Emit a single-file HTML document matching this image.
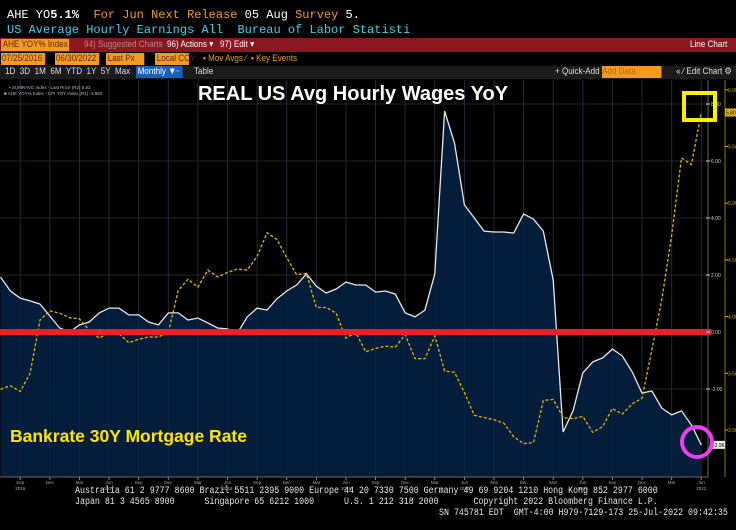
<!DOCTYPE html>
<html><head><meta charset="utf-8">
<style>
*{margin:0;padding:0;box-sizing:border-box}
body{width:736px;height:530px;background:#000;overflow:hidden;font-family:"Liberation Mono",monospace;position:relative}
.t{position:absolute;white-space:pre;font-size:12px;line-height:14px}
.bar{position:absolute;left:0;width:736px}
.sm{position:absolute;font-family:"Liberation Sans",sans-serif;font-size:9.5px;line-height:12px;white-space:pre;transform:scaleX(0.85);transform-origin:left}
.of{background:#f39a1f;color:#5a2a00}
.foot{position:absolute;font-family:"Liberation Mono",monospace;font-size:10px;color:#e8e8e8;white-space:pre;transform:scaleX(0.83);transform-origin:left}
</style></head><body>
<div class="t" style="left:7px;top:8px;color:#fff">AHE YO<b>5.1%</b>  <span style="color:#f39a1f">For Jun</span> <span style="color:#f39a1f">Next Release</span> 05 Aug <span style="color:#f39a1f">Survey</span> 5.</div>
<div class="t" style="left:7px;top:23px;color:#3fd0e8">US Average Hourly Earnings All  Bureau of Labor Statisti</div>

<div class="bar" style="top:38px;height:14px;background:#8a1620">
  <div class="sm of" style="left:1px;top:1px;width:80px;height:12px;padding-left:2px">AHE YOY% Index</div>
  <div class="sm" style="left:84px;top:1px;color:#b98a8a">94) Suggested Charts</div>
  <div class="sm" style="left:167px;top:1px;color:#fff">96) Actions ▾</div>
  <div class="sm" style="left:220px;top:1px;color:#fff">97) Edit ▾</div>
  <div class="sm" style="left:690px;top:1px;color:#fff">Line Chart</div>
</div>
<div class="bar" style="top:52px;height:14px;background:#000">
  <div class="sm of" style="left:1px;top:1px;width:52px;height:12px;padding-left:1px">07/25/2016</div>
  <div class="sm of" style="left:55px;top:1px;width:52px;height:12px;padding-left:1px">06/30/2022</div>
  <div class="sm of" style="left:106px;top:1px;width:45px;height:12px;padding-left:2px">Last Px</div>
  <div class="sm of" style="left:155px;top:1px;width:40px;height:12px;padding-left:2px">Local CCY</div>
  <div class="sm" style="left:203px;top:1px;color:#f39a1f">▪ Mov Avgs ⁄  ▪ Key Events</div>
</div>
<div class="bar" style="top:66px;height:13px;background:#1b1b1b">
  <div class="sm" style="left:5px;top:0;color:#ddd">1D  3D  1M  6M  YTD  1Y  5Y  Max</div>
  <div class="sm" style="left:136px;top:0;background:#1b5fb8;color:#fff;padding:0 2px">Monthly ▼</div>
  <div class="sm" style="left:175px;top:0;background:#1b5fb8;color:#9cf;width:9px;height:12px">~</div>
  <div class="sm" style="left:194px;top:0;color:#ddd">Table</div>
  <div class="sm" style="left:555px;top:0;color:#ddd">+ Quick-Add ·</div>
  <div class="sm of" style="left:602px;top:0;width:70px;height:12px;color:#b86a10">Add Data</div>
  <div class="sm" style="left:676px;top:0;color:#ddd">« ⁄ Edit Chart ⚙</div>
</div>

<svg id="chart" style="position:absolute;left:0;top:79px" width="736" height="411" viewBox="0 79 736 411"></svg>

<div class="foot" style="left:75px;top:486px">Australia 61 2 9777 8600 Brazil 5511 2395 9000 Europe 44 20 7330 7500 Germany 49 69 9204 1210 Hong Kong 852 2977 6000</div>
<div class="foot" style="left:75px;top:497px">Japan 81 3 4565 8900      Singapore 65 6212 1000      U.S. 1 212 318 2000       Copyright 2022 Bloomberg Finance L.P.</div>
<div class="foot" style="left:439px;top:508px">SN 745781 EDT  GMT-4:00 H979-7129-173 25-Jul-2022 09:42:35</div>

<script>
const realWage = [1.93,1.44,1.19,1.09,0.98,0.56,0.14,0.00,0.25,0.35,0.67,0.84,0.84,0.60,0.60,0.35,0.25,0.67,0.67,0.42,0.49,0.32,0.14,0.11,-0.04,0.53,0.84,0.77,1.16,1.44,1.65,2.04,1.61,1.37,1.51,1.75,1.65,1.65,1.40,1.44,1.33,0.67,0.53,0.77,2.04,7.75,6.63,4.46,4.00,3.54,3.51,3.51,3.47,4.14,3.96,3.54,1.82,-3.51,-2.77,-1.44,-1.05,-0.91,-0.60,-0.84,-1.40,-2.14,-2.07,-2.67,-2.91,-2.77,-3.26,-3.96];
const mortgage = [3.36,3.39,3.34,3.50,3.97,4.05,4.03,3.99,3.98,3.88,3.81,3.86,3.85,3.77,3.80,3.82,3.82,3.86,4.23,4.33,4.26,4.41,4.35,4.39,4.42,4.41,4.53,4.74,4.68,4.52,4.37,4.38,4.08,4.08,4.03,3.81,3.86,3.69,3.72,3.74,3.73,3.84,3.63,3.63,3.83,3.52,3.51,3.33,3.13,3.11,3.09,3.06,2.94,2.88,2.89,3.26,3.27,3.11,3.10,3.12,2.98,3.03,3.19,3.14,3.23,3.28,3.71,4.15,4.72,5.40,5.34,5.80];
const wageTicks = [8,6,4,2,0,-2];
const wageTickLabels = ["8.00","6.00","4.00","2.00","0.00","-2.00"];
const mortTicks = [6,5.5,5,4.5,4,3.5,3];
const mortTickLabels = ["6.00","5.50","5.00","4.50","4.00","3.50","3.00"];
const monthNames = ["Jan","Feb","Mar","Apr","May","Jun","Jul","Aug","Sep","Oct","Nov","Dec"];
const startYear = 2016, startMonth = 6; // Jul 2016

const NS="http://www.w3.org/2000/svg";
const svg=document.getElementById('chart');
const xS=i=>0.5+9.87*i;
const yW=v=>332-28.5*v;
const yY=v=>430-113.4*(v-3);
const PT=80, PB=477, PR=707;
function mk(tag,attrs,parent){const e=document.createElementNS(NS,tag);for(const k in attrs)e.setAttribute(k,attrs[k]);(parent||svg).appendChild(e);return e;}

mk('rect',{x:0,y:PT,width:PR,height:PB-PT,fill:'#000'});
wageTicks.forEach(v=>{const g=mk('line',{x1:0,x2:PR,y1:yW(v),y2:yW(v),stroke:'#262626','stroke-width':1});

});
const n=realWage.length;
for(let i=0;i<n;i++){const m=(startMonth+i)%12;if(m%3===2){const g=mk('line',{x1:xS(i),x2:xS(i),y1:PT,y2:PB,stroke:'#262626','stroke-width':1});

}}
let d='M'+xS(0)+','+PB;realWage.forEach((v,i)=>d+=' L'+xS(i).toFixed(1)+','+yW(v).toFixed(1));d+=' L'+xS(n-1).toFixed(1)+','+PB+' Z';
const area=mk('path',{d:d,fill:'#041d3a'});


for(let i=0;i<n;i++){const m=(startMonth+i)%12;if(m%3===2){mk('line',{x1:xS(i),x2:xS(i),y1:PT,y2:PB,stroke:'#1a3450','stroke-width':0.6,opacity:0.5});}}
let lw='';realWage.forEach((v,i)=>lw+=(i?' L':'M')+xS(i).toFixed(1)+','+yW(v).toFixed(1));
const wl=mk('path',{d:lw,fill:'none',stroke:'#e8e8e8','stroke-width':1.3});


let ly='';mortgage.forEach((v,i)=>ly+=(i?' L':'M')+xS(i).toFixed(1)+','+yY(v).toFixed(1));
const yl=mk('path',{d:ly,fill:'none',stroke:'#e0b800','stroke-width':1.3,'stroke-dasharray':'3,2'});


const rl=mk('line',{x1:0,x2:711,y1:yW(0),y2:yW(0),stroke:'#ee2026','stroke-width':6});


mk('line',{x1:708,x2:708,y1:PT,y2:PB,stroke:'#666','stroke-width':1});
mk('line',{x1:725,x2:725,y1:PT,y2:PB,stroke:'#8a7300','stroke-width':1});
mk('line',{x1:0,x2:708,y1:PB,y2:PB,stroke:'#666','stroke-width':1});
wageTicks.forEach((v,k)=>{mk('line',{x1:706,x2:710,y1:yW(v),y2:yW(v),stroke:'#ccc'});
const t=mk('text',{x:711,y:yW(v)+2,fill:'#ccc','font-size':5,'font-family':'Liberation Sans, sans-serif'});t.textContent=wageTickLabels[k];

});
mortTicks.forEach((v,k)=>{mk('line',{x1:725,x2:728,y1:yY(v),y2:yY(v),stroke:'#e0b800'});
const t=mk('text',{x:728,y:yY(v)+2,fill:'#c9a800','font-size':5,'font-family':'Liberation Sans, sans-serif'});t.textContent=mortTickLabels[k];

});
mk('rect',{x:725,y:yY(mortgage[n-1])-4,width:11,height:8,fill:'#e0b800'});
const lv=mk('text',{x:726,y:yY(mortgage[n-1])+2,fill:'#000','font-size':5,'font-family':'Liberation Sans, sans-serif'});lv.textContent=mortgage[n-1].toFixed(2);


mk('rect',{x:712,y:yW(realWage[n-1])-4,width:13,height:8,fill:'#eee'});
const lw2=mk('text',{x:713,y:yW(realWage[n-1])+2,fill:'#000','font-size':5,'font-family':'Liberation Sans, sans-serif'});lw2.textContent=realWage[n-1].toFixed(2);


for(let i=0;i<n;i++){const m=(startMonth+i)%12;if(m%3===2||i===n-1){const t=mk('text',{x:xS(i),y:484,fill:'#aaa','font-size':4.5,'text-anchor':'middle','font-family':'Liberation Sans, sans-serif'});t.textContent=monthNames[m];


mk('line',{x1:xS(i),x2:xS(i),y1:PB,y2:PB+3,stroke:'#888'});
if(m===5||i===2){const yv=startYear+Math.floor((startMonth+i)/12);const ty=mk('text',{x:xS(i),y:490,fill:'#aaa','font-size':4.5,'text-anchor':'middle','font-family':'Liberation Sans, sans-serif'});ty.textContent=yv;

}}}
const lg1=mk('text',{x:9,y:89,fill:'#bbb','font-size':4.5,'font-family':'Liberation Sans, sans-serif'});lg1.textContent='▪ SUMRAVG Index - Last Price (R2)     5.83';


const lg2=mk('text',{x:4,y:95,fill:'#bbb','font-size':4.5,'font-family':'Liberation Sans, sans-serif'});lg2.textContent='■ AHE YOY% Index - CPI YOY Index (R1)  -3.982';


const tt=mk('text',{x:353,y:100,fill:'#fff','font-size':20,'font-weight':'bold','text-anchor':'middle','font-family':'Liberation Sans, sans-serif'});tt.textContent='REAL US Avg Hourly Wages YoY';


const bt=mk('text',{x:10,y:442,fill:'#ffe600','font-size':17.5,'font-weight':'bold','font-family':'Liberation Sans, sans-serif'});bt.textContent='Bankrate 30Y Mortgage Rate';


const yb=mk('rect',{x:684,y:93,width:31,height:27,fill:'none',stroke:'#ffee00','stroke-width':4});


const mc=mk('circle',{cx:697,cy:442,r:15,fill:'none',stroke:'#ee3df0','stroke-width':4});


</script>
</body></html>
